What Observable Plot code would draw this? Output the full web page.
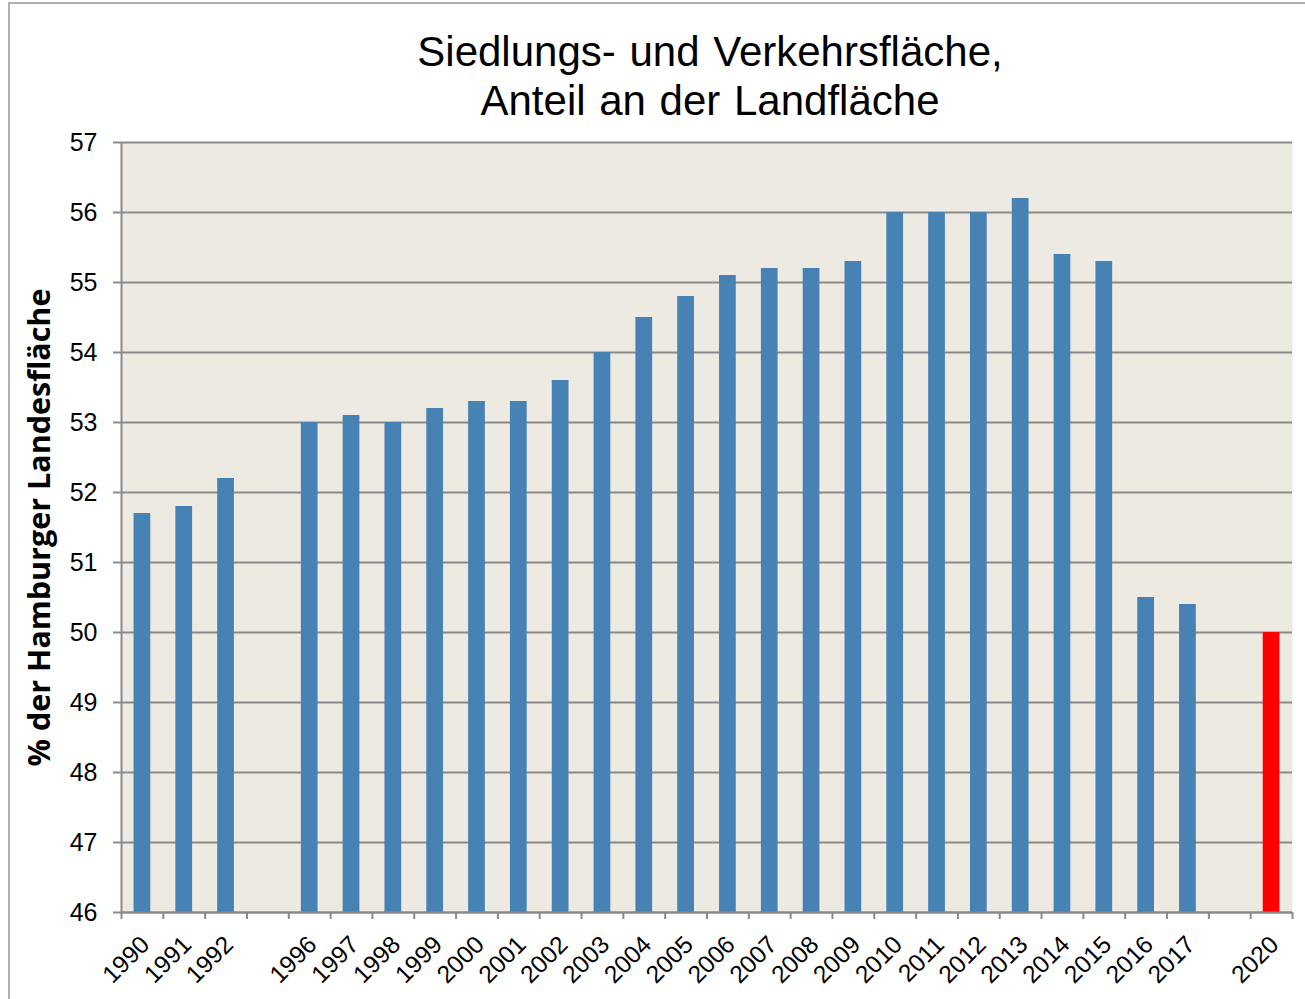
<!DOCTYPE html>
<html>
<head>
<meta charset="utf-8">
<script src="https://cdn.jsdelivr.net/npm/d3@7"></script>
<script src="https://cdn.jsdelivr.net/npm/@observablehq/plot@0.6"></script>
<style>
  html, body { margin: 0; padding: 0; background: #fff; }
  #page { position: relative; width: 1305px; height: 999px; overflow: hidden; font-family: "Liberation Sans", Arial, sans-serif; }
  #frame { position: absolute; left: 8px; top: 2px; width: 1320px; height: 1020px; border: 2px solid #b0b0b0; box-sizing: border-box; }
  #title { position: absolute; left: 0; top: 27px; width: 1420px; text-align: center; font-size: 42px; line-height: 49px; color: #000; word-spacing: 2px; }
  #chart { position: absolute; left: 0; top: 112px; }
</style>
</head>
<body>
<div id="page">
  <div id="frame"></div>
  <div id="title">Siedlungs- und Verkehrsfläche,<br>Anteil an der Landfläche</div>
  <div id="chart"></div>
</div>
<script>
const slotLabels = ["1990","1991","1992","","1996","1997","1998","1999","2000","2001","2002","2003","2004","2005","2006","2007","2008","2009","2010","2011","2012","2013","2014","2015","2016","2017","","2020"];
const years = ["1990","1991","1992","1996","1997","1998","1999","2000","2001","2002","2003","2004","2005","2006","2007","2008","2009","2010","2011","2012","2013","2014","2015","2016","2017","2020"];
const values = [51.7,51.8,52.2,53.0,53.1,53.0,53.2,53.3,53.3,53.6,54.0,54.5,54.8,55.1,55.2,55.2,55.3,56.0,56.0,56.0,56.2,55.4,55.3,50.5,50.4,50.0];
const highlightYears = ["2020"];
const yTicks = [46,47,48,49,50,51,52,53,54,55,56,57];
const yLabel = "% der Hamburger Landesfläche";

const data = years.map((y, i) => ({year: y, value: values[i], slot: slotLabels.indexOf(y), hi: highlightYears.includes(y)}));
const n = slotLabels.length;
const halfBar = 0.2;
const gridColor = "#8a8a8a";

const chart = Plot.plot({
  width: 1305,
  height: 887,
  marginTop: 30,
  marginLeft: 121,
  marginRight: 13,
  marginBottom: 87,
  style: {fontFamily: "'Liberation Sans', Arial, sans-serif", color: "#000", background: "transparent"},
  x: {type: "linear", domain: [-0.5, n - 0.5]},
  y: {domain: [46, 57]},
  marks: [
    Plot.frame({fill: "#EDEAE1", stroke: null}),
    Plot.gridY(yTicks, {stroke: gridColor, strokeOpacity: 1, strokeWidth: 2}),
    Plot.rect(data, {
      x1: d => d.slot - halfBar,
      x2: d => d.slot + halfBar,
      y1: yTicks[0],
      y2: "value",
      fill: d => d.hi ? "#FF0000" : "#4682B4"
    }),
    Plot.ruleY([yTicks[0]], {stroke: gridColor, strokeWidth: 2}),
    Plot.ruleX([-0.5], {stroke: gridColor, strokeWidth: 2}),
    Plot.axisY({ticks: yTicks, tickSize: 8, tickPadding: 16, fontSize: 25, stroke: gridColor, strokeWidth: 2, label: null}),
    Plot.axisX({ticks: d3.range(n + 1).map(k => k - 0.5), tickSize: 7, tickFormat: () => "", stroke: gridColor, strokeWidth: 2, label: null}),
    Plot.axisX({ticks: d3.range(n), tickSize: 0, tickPadding: 28, dx: 3, tickRotate: -45, fontSize: 24.5, tickFormat: i => slotLabels[i], label: null}),
    Plot.text([yLabel], {frameAnchor: "left", dx: -81, rotate: -90, textAnchor: "middle", fontSize: 30.5, fontWeight: "bold", fontFamily: "'Open Sans', sans-serif", text: d => d, fill: "#000"})
  ]
});
document.getElementById("chart").appendChild(chart);
</script>
</body>
</html>
